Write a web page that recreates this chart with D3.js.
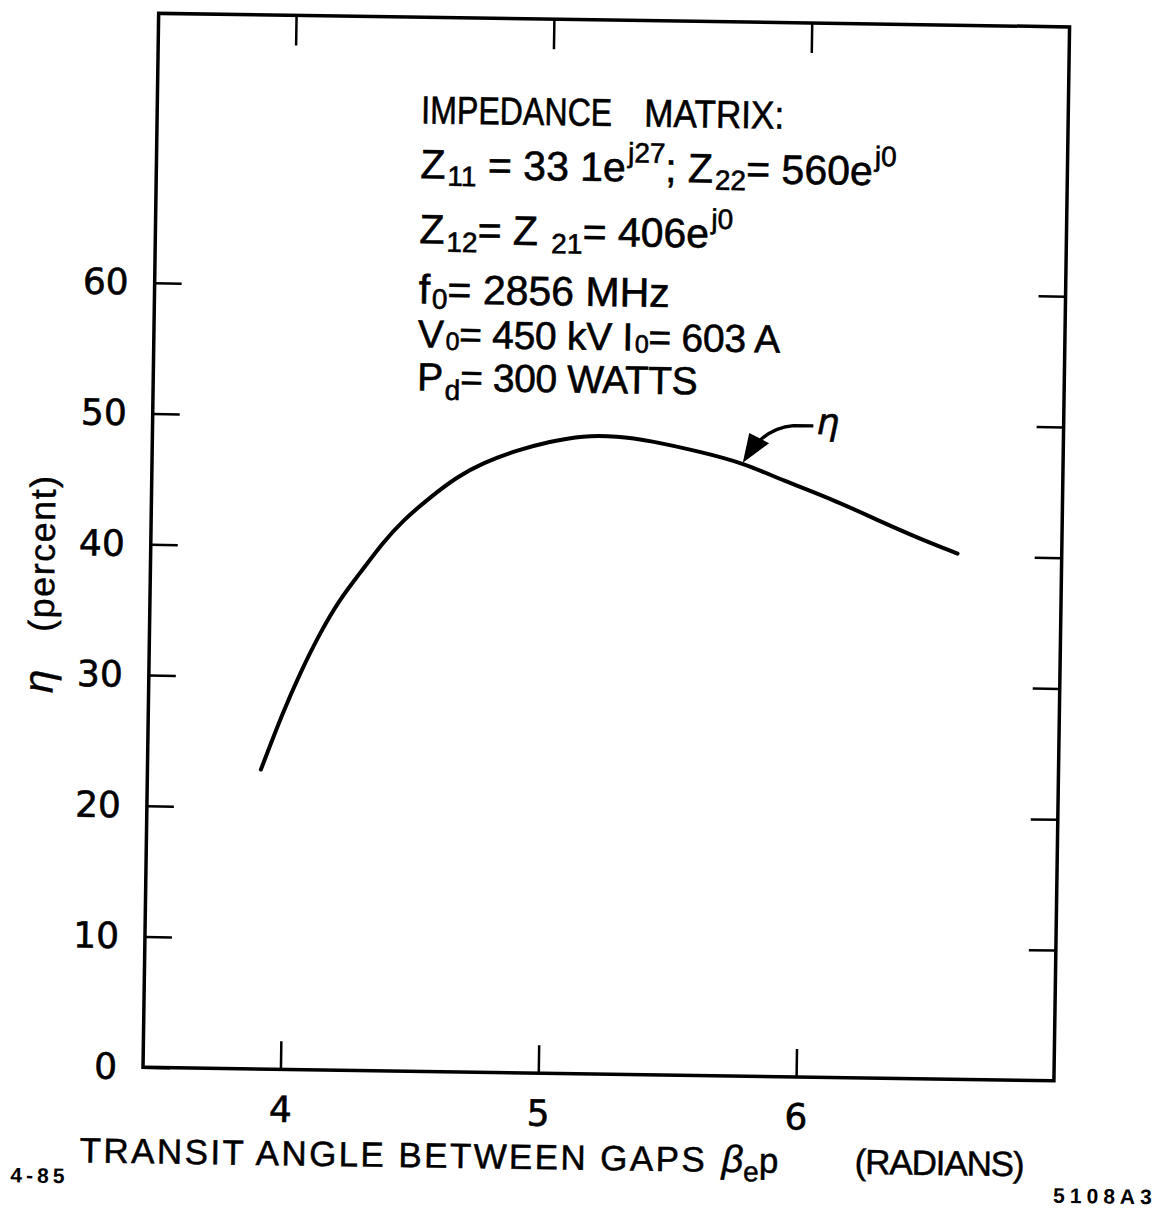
<!DOCTYPE html>
<html>
<head>
<meta charset="utf-8">
<script src="https://cdn.jsdelivr.net/npm/d3@7"></script>
<style>
    body { margin: 0; background: #fff; }
    svg text { fill: #000; }
</style>
</head>
<body>
<script>
// transit angle between gaps, beta_e * p (radians)
const transitAngle = [3.907, 3.989, 4.053, 4.128, 4.203, 4.279, 4.367, 4.443, 4.547, 4.650, 4.750, 4.881,
    5.008, 5.136, 5.268, 5.396, 5.590, 5.758, 5.914, 6.109, 6.304, 6.436, 6.596];
// efficiency eta (percent)
const efficiency = [22.9, 27.3, 30.3, 33.4, 36.0, 38.0, 40.4, 42.1, 43.9, 45.5, 46.6, 47.6,
    48.3, 48.8, 48.8, 48.5, 47.7, 46.9, 45.6, 44.2, 42.5, 41.4, 40.2];

const xTicks = [4, 5, 6];
const yTicks = [0, 10, 20, 30, 40, 50, 60];
const yTicksRight = [10, 20, 30, 40, 50, 60];

// point on the curve that the eta arrow points at
const arrowAngle = 5.758;
const arrowEta = 46.9;

// annotation block, one entry per line: [text, kind]
const noteLines = [
    [['Z', 'n'], ['11', 'sub'], [' = 33 1e', 'n'], ['j27', 'sup'], ['; Z', 'n'], ['22', 'sub'], ['= 560e', 'n'], ['j0', 'sup']],
    [['Z', 'n'], ['12', 'sub'], ['= Z ', 'n'], ['21', 'sub'], ['= 406e', 'n'], ['j0', 'sup']],
    [['f', 'n'], ['0', 'sub'], ['=  2856 MHz', 'n']],
    [['V', 'n'], ['0', 'sub'], ['= 450 kV  I', 'n'], ['0', 'sub'], ['= 603 A', 'n']],
    [['P', 'n'], ['d', 'sub'], ['= 300 WATTS', 'n']]
];

drawChart();

function drawChart()
{
    const width = 1163;
    const height = 1210;

    const marginLeft = 150;
    const marginRight = 102;
    const marginTop = 20;
    const marginBottom = 136;

    const svg = d3.select('body')
        .append('svg')
        .attr('width', width)
        .attr('height', height);

    // the scanned sheet is turned slightly clockwise
    const g = svg.append('g')
        .attr('transform', 'rotate(0.85, 600, 600)');

    const x = d3.scaleLinear().domain([3.467, 7.0]).range([marginLeft, width - marginRight]);
    const y = d3.scaleLinear().domain([0, 80.6]).range([height - marginBottom, marginTop]);

    const [x0, x1] = x.range();
    const [y0, y1] = y.range();

    // frame
    g.append('rect')
        .attr('x', x0)
        .attr('y', y1)
        .attr('width', x1 - x0)
        .attr('height', y0 - y1)
        .attr('fill', 'none')
        .attr('stroke', '#000')
        .attr('stroke-width', 3.5);

    // bottom axis, ticks point inward
    const xAxis = g.append('g')
        .attr('transform', `translate(0,${y0})`)
        .call(d3.axisBottom(x).tickValues(xTicks).tickSize(-28).tickPadding(27).tickFormat(d3.format('d')));

    // top axis
    const xAxisTop = g.append('g')
        .attr('transform', `translate(0,${y1})`)
        .call(d3.axisTop(x).tickValues(xTicks).tickSize(-30).tickFormat(''));

    // left axis
    const yAxis = g.append('g')
        .attr('transform', `translate(${x0},0)`)
        .call(d3.axisLeft(y).tickValues(yTicks).tickSize(-27).tickPadding(26).tickFormat(d3.format('d')));

    // right axis
    const yAxisRight = g.append('g')
        .attr('transform', `translate(${x1},0)`)
        .call(d3.axisRight(y).tickValues(yTicksRight).tickSize(-27).tickFormat(''));

    [xAxis, xAxisTop, yAxis, yAxisRight].forEach(a =>
    {
        a.select('.domain').remove();
        a.selectAll('.tick line').attr('stroke', '#000').attr('stroke-width', 2.5);
        a.selectAll('.tick text')
            .attr('fill', '#000')
            .attr('stroke', '#000')
            .attr('stroke-width', 0.6)
            .style('font-family', '"DejaVu Sans", sans-serif')
            .style('font-size', '36px');
    });

    // efficiency curve
    const points = transitAngle.map((v, i) => [v, efficiency[i]]);
    const lineGenerator = d3.line()
        .x(d => x(d[0]))
        .y(d => y(d[1]))
        .curve(d3.curveBasis);

    g.append('path')
        .datum(points)
        .attr('d', lineGenerator)
        .attr('fill', 'none')
        .attr('stroke', '#000')
        .attr('stroke-width', 4)
        .attr('stroke-linecap', 'round');

    // eta label with curved arrow
    const tx = x(arrowAngle);
    const ty = y(arrowEta);
    g.append('path')
        .attr('d', `M${tx + 70},${ty - 38} L${tx + 50},${ty - 38} Q${tx + 30},${ty - 36} ${tx + 16},${ty - 22}`)
        .attr('fill', 'none')
        .attr('stroke', '#000')
        .attr('stroke-width', 3.2);
    g.append('path')
        .attr('d', `M${tx},${ty} L${tx + 6},${ty - 30} L${tx + 26},${ty - 20} Z`)
        .attr('fill', '#000');
    g.append('text')
        .attr('x', tx + 73)
        .attr('y', ty - 30)
        .attr('stroke', '#000')
        .attr('stroke-width', 0.6)
        .style('font-family', '"DejaVu Sans", sans-serif')
        .style('font-style', 'italic')
        .style('font-size', '36px')
        .text('η');

    // annotation block
    const noteFont = '"Liberation Sans", Arial, sans-serif';
    const noteX = 414;
    g.append('text')
        .attr('x', noteX)
        .attr('y', 126)
        .attr('textLength', 191)
        .attr('lengthAdjust', 'spacingAndGlyphs')
        .attr('stroke', '#000')
        .attr('stroke-width', 0.6)
        .style('font-family', noteFont)
        .style('font-size', '39px')
        .text('IMPEDANCE');
    g.append('text')
        .attr('x', noteX + 223)
        .attr('y', 126)
        .attr('textLength', 140)
        .attr('lengthAdjust', 'spacingAndGlyphs')
        .attr('stroke', '#000')
        .attr('stroke-width', 0.6)
        .style('font-family', noteFont)
        .style('font-size', '39px')
        .text('MATRIX:');

    const noteBaselines = [181, 246, 306, 350, 393];
    const noteSize = [41, 41, 41, 39, 39];
    const subSize = [28, 28, 28, 25, 28];
    const subShift = [7, 8, 5, 2, 9];
    const noteSpacing = [0, 0, 0, -0.3, -0.4];
    noteLines.forEach((segments, i) =>
    {
        const t = g.append('text')
            .attr('x', noteX)
            .attr('y', noteBaselines[i])
            .attr('stroke', '#000')
            .attr('stroke-width', 0.6)
            .style('font-family', noteFont)
            .style('font-size', `${noteSize[i]}px`)
            .style('letter-spacing', `${noteSpacing[i]}px`);
        let shift = 0;
        segments.forEach(([str, kind]) =>
        {
            const target = kind === 'sub' ? subShift[i] : kind === 'sup' ? -19 : 0;
            t.append('tspan')
                .attr('dy', target - shift)
                .attr('dx', kind === 'n' ? 0 : 2)
                .style('font-size', kind === 'n' ? `${noteSize[i]}px` : `${subSize[i]}px`)
                .text(str);
            shift = target;
        });
    });

    // x-axis title
    const titleFont = '"Liberation Sans", Arial, sans-serif';
    g.append('text')
        .attr('x', 88)
        .attr('y', 1170)
        .attr('textLength', 625)
        .attr('lengthAdjust', 'spacing')
        .attr('stroke', '#000')
        .attr('stroke-width', 0.5)
        .style('font-family', titleFont)
        .style('font-size', '35px')
        .text('TRANSIT ANGLE BETWEEN GAPS');
    const beta = g.append('text')
        .attr('x', 730)
        .attr('y', 1170)
        .attr('stroke', '#000')
        .attr('stroke-width', 0.5)
        .style('font-family', titleFont)
        .style('font-size', '35px');
    beta.append('tspan').style('font-style', 'italic').style('font-size', '38px').text('β');
    beta.append('tspan').attr('dy', 9).style('font-size', '28px').text('e');
    beta.append('tspan').attr('dy', -9).text('p');
    g.append('text')
        .attr('x', 863)
        .attr('y', 1170)
        .attr('textLength', 170)
        .attr('lengthAdjust', 'spacing')
        .attr('stroke', '#000')
        .attr('stroke-width', 0.5)
        .style('font-family', titleFont)
        .style('font-size', '35px')
        .text('(RADIANS)');

    // y-axis title
    const yTitle = g.append('text')
        .attr('transform', 'translate(54,592) rotate(-90)')
        .attr('text-anchor', 'middle')
        .attr('stroke', '#000')
        .attr('stroke-width', 0.4)
        .style('font-family', titleFont)
        .style('font-size', '36px');
    yTitle.append('tspan').style('font-style', 'italic').style('font-size', '42px').text('η');
    yTitle.append('tspan').attr('dx', 38).style('letter-spacing', '1.5px').text('(percent)');

    // drawing numbers
    g.append('text')
        .attr('x', 19)
        .attr('y', 1191)
        .style('font-family', titleFont)
        .style('font-size', '21px')
        .style('font-weight', 'bold')
        .style('letter-spacing', '4px')
        .text('4-85');
    g.append('text')
        .attr('x', 1062)
        .attr('y', 1196)
        .style('font-family', titleFont)
        .style('font-size', '21px')
        .style('font-weight', 'bold')
        .style('letter-spacing', '5px')
        .text('5108A3');
}
</script>
</body>
</html>
